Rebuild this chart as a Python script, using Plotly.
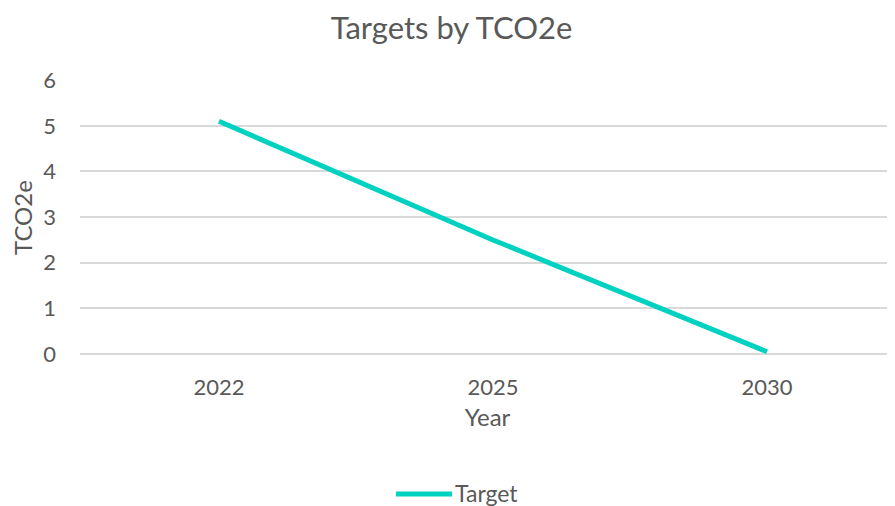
import plotly.graph_objects as go

years = ["2022", "2025", "2030"]
target = [5.1, 2.5, 0.05]
y_ticks = [0, 1, 2, 3, 4, 5, 6]

FONT = "Lato"
GRAY = "#595959"
LINE = "#00D1C1"

W, H = 887, 498
L, R, T, B = 72, 0, 72, 152
PW, PH = W - L - R, H - T - B

def px(xf):
    return (xf - L) / PW

def py(yf):
    return (T + PH - yf) / PH

fig = go.Figure()
fig.add_trace(go.Scatter(
    x=years, y=target, mode="lines", name="Target",
    line=dict(color=LINE, width=5),
    showlegend=False,
))

# legend (drawn manually to reproduce the long Excel line sample)
fig.add_shape(type="line", xref="paper", yref="paper",
              x0=px(388), x1=px(444), y0=py(486), y1=py(486),
              line=dict(color=LINE, width=5))
fig.add_annotation(xref="paper", yref="paper", x=px(445), y=py(485),
                   xanchor="left", yanchor="middle", showarrow=False,
                   text="Target", font=dict(size=23, color=GRAY, family=FONT))

# y-axis title
fig.add_annotation(xref="paper", yref="paper", x=px(14), y=0.5,
                   xanchor="center", yanchor="middle", showarrow=False, textangle=-90,
                   text="TCO2e", font=dict(size=24, color=GRAY, family=FONT))

fig.update_layout(
    width=W, height=H,
    margin=dict(l=L, r=R, t=T, b=B),
    paper_bgcolor="white", plot_bgcolor="white",
    font=dict(family=FONT, color=GRAY, size=22),
    title=dict(text="Targets by TCO2e", x=0.5, xanchor="center", yref="container",
               y=1 - 20 / H, yanchor="middle",
               font=dict(size=31, color=GRAY, family=FONT)),
    xaxis=dict(type="category", range=[-0.507, 2.467], showgrid=False, showline=False,
               ticks="", ticklabelstandoff=18, tickfont=dict(size=22),
               title=dict(text="Year", font=dict(size=24, color=GRAY), standoff=10)),
    yaxis=dict(range=[0, 6.005], tickvals=y_ticks, showgrid=True, gridcolor="#D9D9D9", gridwidth=1.5,
               zeroline=True, zerolinecolor="#D9D9D9", zerolinewidth=1.5, showline=False,
               ticks="", ticklabelstandoff=23, tickfont=dict(size=22)),
)

fig.write_html("out.html")
